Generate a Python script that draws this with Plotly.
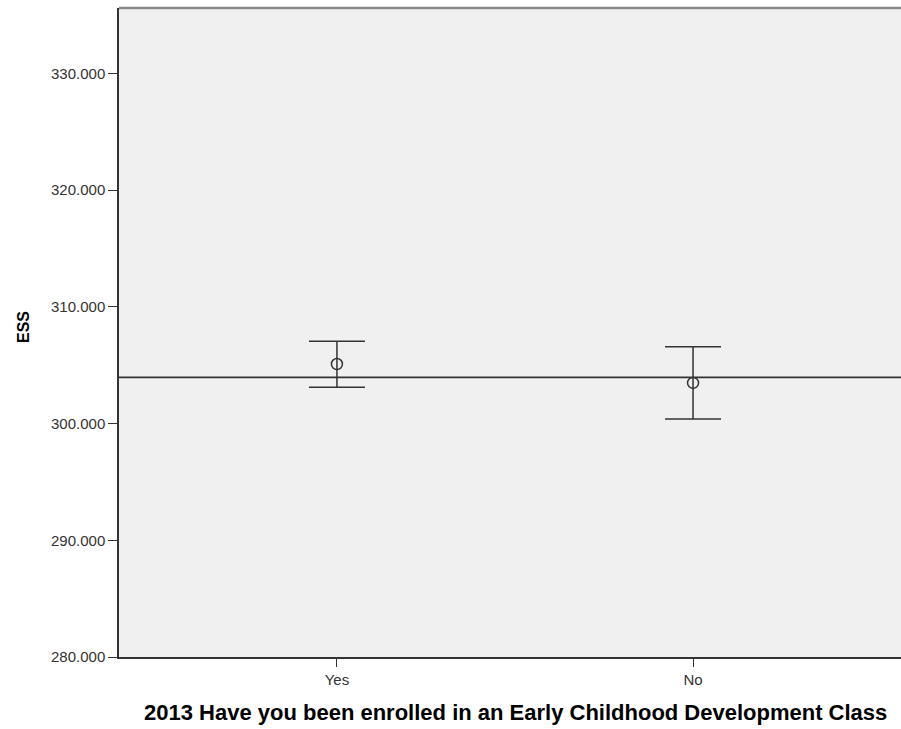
import plotly.graph_objects as go

# Group means of ESS with their confidence limits
categories = ["Yes", "No"]
means = [305.10, 303.48]
upper_limits = [307.05, 306.57]
lower_limits = [303.12, 300.38]
overall_mean = 303.95
y_ticks = [280, 290, 300, 310, 320, 330]

err_plus = [u - m for u, m in zip(upper_limits, means)]
err_minus = [m - l for m, l in zip(means, lower_limits)]

ink = "#333333"
font_family = "Liberation Sans, Arial, sans-serif"

fig = go.Figure()
fig.add_trace(go.Scatter(
    x=[0, 1],
    y=means,
    mode="markers",
    marker=dict(symbol="circle-open", size=11, color=ink, line=dict(width=1.5, color=ink)),
    error_y=dict(type="data", symmetric=False, array=err_plus, arrayminus=err_minus,
                 color=ink, thickness=1.5, width=28),
    showlegend=False,
    hoverinfo="skip",
))

# Horizontal reference line at the overall mean
fig.add_shape(type="line", xref="paper", x0=0, x1=1, yref="y", y0=overall_mean, y1=overall_mean,
              line=dict(color=ink, width=1.8))
# Top frame edge
fig.add_shape(type="line", xref="paper", x0=0, x1=1, yref="paper", y0=1, y1=1,
              line=dict(color="#8a8a8a", width=2.5))

fig.update_layout(
    width=901, height=729,
    margin=dict(l=119, r=0, t=8, b=72),
    paper_bgcolor="white",
    plot_bgcolor="#f0f0f0",
    font=dict(family=font_family, size=15, color=ink),
    xaxis=dict(
        range=[-0.612, 1.584],
        tickvals=[0, 1], ticktext=categories,
        showgrid=False, zeroline=False,
        showline=True, linecolor=ink, linewidth=1.5,
        ticks="outside", ticklen=8, tickcolor=ink, tickwidth=1,
        tickfont=dict(size=15, color=ink),
    ),
    yaxis=dict(
        range=[280, 335.6],
        tickvals=y_ticks, tickformat=".3f",
        showgrid=False, zeroline=False,
        showline=True, linecolor=ink, linewidth=1.5,
        ticks="outside", ticklen=9, tickcolor=ink, tickwidth=1,
        tickfont=dict(size=15, color=ink),
    ),
    annotations=[
        dict(text="<b>2013 Have you been enrolled in an Early Childhood Development Class</b>",
             xref="paper", yref="paper", x=(515 - 119) / 782, y=(729 - 712 - 72) / 649,
             xanchor="center", yanchor="middle", showarrow=False,
             font=dict(size=22, color="black", family=font_family)),
        dict(text="<b>ESS</b>", textangle=-90,
             xref="paper", yref="paper", x=(23 - 119) / 782, y=(729 - 327 - 72) / 649,
             xanchor="center", yanchor="middle", showarrow=False,
             font=dict(size=16, color="black", family=font_family)),
    ],
)

fig.write_html("out.html")
